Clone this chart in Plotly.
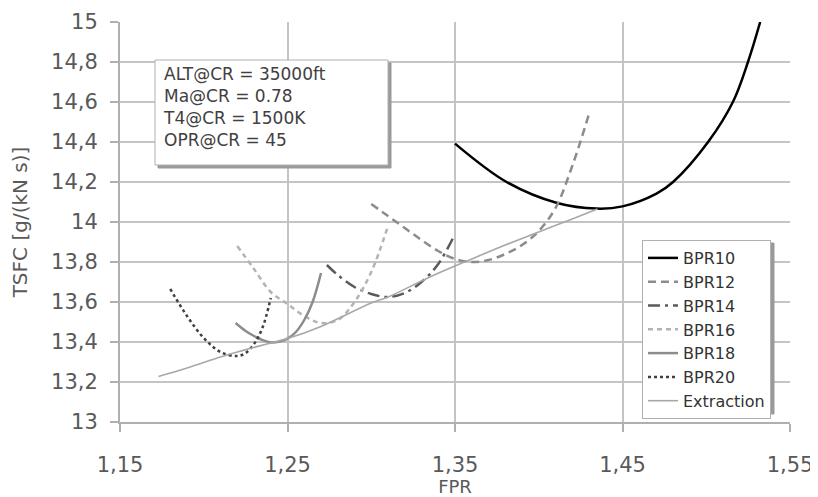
import plotly.graph_objects as go

# ---------------- data ----------------
bpr10_x = [1.350, 1.3808, 1.411, 1.4345, 1.450, 1.4703, 1.4802, 1.5011, 1.5159, 1.5249, 1.5322]
bpr10_y = [14.392, 14.200, 14.095, 14.067, 14.078, 14.142, 14.200, 14.400, 14.600, 14.800, 15.000]

bpr12_x = [1.300, 1.310, 1.320, 1.330, 1.340, 1.350, 1.360, 1.370, 1.380, 1.390, 1.400, 1.410, 1.420, 1.430]
bpr12_y = [14.090, 14.030, 13.970, 13.910, 13.855, 13.815, 13.800, 13.810, 13.840, 13.885, 13.955, 14.070, 14.280, 14.540]

bpr14_x = [1.2735, 1.280, 1.290, 1.300, 1.310, 1.320, 1.330, 1.340, 1.350]
bpr14_y = [13.785, 13.735, 13.675, 13.640, 13.625, 13.645, 13.700, 13.790, 13.940]

bpr16_x = [1.220, 1.230, 1.240, 1.250, 1.260, 1.270, 1.280, 1.290, 1.300, 1.310]
bpr16_y = [13.880, 13.765, 13.650, 13.590, 13.530, 13.495, 13.510, 13.600, 13.750, 13.980]

bpr18_x = [1.219, 1.225, 1.230, 1.235, 1.240, 1.245, 1.250, 1.255, 1.260, 1.265, 1.270]
bpr18_y = [13.495, 13.455, 13.430, 13.410, 13.398, 13.402, 13.417, 13.450, 13.510, 13.600, 13.745]

bpr20_x = [1.180, 1.190, 1.200, 1.210, 1.220, 1.225, 1.230, 1.235, 1.240]
bpr20_y = [13.665, 13.530, 13.420, 13.350, 13.330, 13.345, 13.390, 13.470, 13.620]

extr_x = [1.173, 1.190, 1.210, 1.220, 1.240, 1.250, 1.270, 1.300, 1.310, 1.335, 1.360, 1.380, 1.400, 1.420, 1.435]
extr_y = [13.228, 13.270, 13.325, 13.350, 13.395, 13.417, 13.478, 13.595, 13.625, 13.725, 13.815, 13.885, 13.950, 14.015, 14.065]

x_tickvals = [1.15, 1.25, 1.35, 1.45, 1.55]
x_ticktext = ["1,15", "1,25", "1,35", "1,45", "1,55"]
y_tickvals = [13, 13.2, 13.4, 13.6, 13.8, 14, 14.2, 14.4, 14.6, 14.8, 15]
y_ticktext = ["13", "13,2", "13,4", "13,6", "13,8", "14", "14,2", "14,4", "14,6", "14,8", "15"]

info_lines = ["ALT@CR = 35000ft", "Ma@CR = 0.78", "T4@CR = 1500K", "OPR@CR = 45"]

FONT = "DejaVu Sans"
GRID = "#c4c4c4"
TXT = "#595959"

fig = go.Figure()

def add(x, y, name, color, dash, width):
    fig.add_trace(go.Scatter(x=x, y=y, name=name, mode="lines",
                             line=dict(color=color, dash=dash, width=width, shape="spline", smoothing=1.0)))

add(bpr10_x, bpr10_y, "BPR10", "#000000", "solid", 2.5)
add(bpr12_x, bpr12_y, "BPR12", "#8c8c8c", "8px,5px", 2.5)
add(bpr14_x, bpr14_y, "BPR14", "#5a5a5a", "12px,5px,3px,5px", 2.5)
add(bpr16_x, bpr16_y, "BPR16", "#b4b4b4", "5px,4px", 2.5)
add(bpr18_x, bpr18_y, "BPR18", "#8c8c8c", "solid", 2.5)
add(bpr20_x, bpr20_y, "BPR20", "#404040", "dot", 2.5)
add(extr_x, extr_y, "Extraction", "#a8a8a8", "solid", 1.6)

# page has an 8px body margin; work in page pixels and convert
OFF = 8
W, H = 810, 489
PL, PR, PT, PB = 120, 790, 22, 422   # plot area in page pixels
L, R, T, B = PL - OFF, W - (PR - OFF), PT - OFF, H - (PB - OFF)
pw, ph = W - L - R, H - T - B
def px(x): return (x - OFF - L) / pw
def py(y): return 1 - (y - OFF - T) / ph

shapes = []
# info box with shadow
shapes.append(dict(type="rect", xref="paper", yref="paper", x0=px(158), x1=px(391), y0=py(168), y1=py(63),
                   line=dict(color="#9a9a9a", width=1), fillcolor="#9a9a9a", layer="above"))
shapes.append(dict(type="rect", xref="paper", yref="paper", x0=px(155), x1=px(388), y0=py(165), y1=py(60),
                   line=dict(color="#b0b0b0", width=1), fillcolor="white", layer="above"))
# legend shadow
shapes.append(dict(type="rect", xref="paper", yref="paper", x0=px(645), x1=px(774), y0=py(414), y1=py(243),
                   line=dict(color="#9a9a9a", width=1), fillcolor="#9a9a9a", layer="above"))

fig.add_annotation(xref="paper", yref="paper", x=px(161), y=py(62), xanchor="left", yanchor="top",
                   text="<br>".join(info_lines), showarrow=False, align="left",
                   font=dict(family=FONT, size=17, color="#404040"))

fig.update_layout(
    width=W, height=H,
    margin=dict(l=L, r=R, t=T, b=B, autoexpand=False),
    paper_bgcolor="white", plot_bgcolor="white",
    font=dict(family=FONT, color=TXT),
    shapes=shapes,
    showlegend=True,
    legend=dict(x=px(642), y=py(240), xanchor="left", yanchor="top",
                bgcolor="white", bordercolor="#b0b0b0", borderwidth=1,
                font=dict(family=FONT, size=16, color="#333333"),
                tracegroupgap=0),
    xaxis=dict(range=[1.15, 1.55], tickvals=x_tickvals, ticktext=x_ticktext,
               automargin=False,
               showgrid=True, gridcolor=GRID, gridwidth=2,
               showline=True, linecolor="#b0b0b0", linewidth=2,
               ticks="outside", ticklen=8, tickcolor="#b0b0b0", tickwidth=2,
               ticklabelstandoff=15,
               tickfont=dict(family=FONT, size=21, color=TXT),
               title=dict(text="FPR", font=dict(family=FONT, size=18, color=TXT), standoff=2),
               zeroline=False),
    yaxis=dict(range=[13, 15], tickvals=y_tickvals, ticktext=y_ticktext,
               automargin=False,
               showgrid=True, gridcolor=GRID, gridwidth=2,
               showline=True, linecolor="#b0b0b0", linewidth=2,
               ticks="outside", ticklen=8, tickcolor="#b0b0b0", tickwidth=2,
               ticklabelstandoff=8,
               tickfont=dict(family=FONT, size=21, color=TXT),
               title=dict(text="TSFC [g/(kN s)]", font=dict(family=FONT, size=20, color=TXT), standoff=22),
               zeroline=False),
)

fig.write_html("out.html")
